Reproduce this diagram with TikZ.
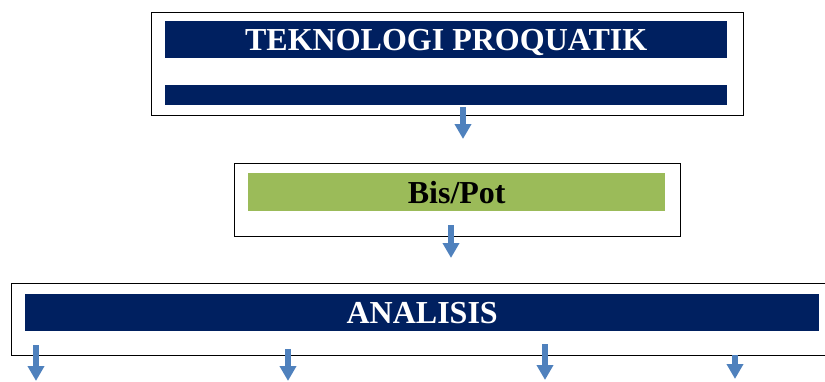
\documentclass[tikz,border=0pt]{standalone}
\usepackage{fontspec}
\setmainfont{Liberation Serif}
\usetikzlibrary{arrows.meta,positioning}
\definecolor{navybar}{HTML}{002060}
\definecolor{greenbar}{HTML}{9BBB59}
\definecolor{arrowblue}{HTML}{4F81BD}
\tikzstyle{frame}=[rectangle,draw=black,line width=1.4pt,fill=white,inner sep=0pt,anchor=north west]
\tikzstyle{bar}=[rectangle,fill=navybar,inner sep=0pt,text depth=0pt,anchor=north west,text=white,font=\fontsize{32}{32}\selectfont\bfseries]
\tikzstyle{gbar}=[bar,fill=greenbar,text=black]
\tikzstyle{blk}=[draw=arrowblue,line width=5.5pt,-{Triangle[width=16pt,length=15pt]}]
\begin{document}
\begin{tikzpicture}[x=1pt,y=-1pt]
\useasboundingbox (0,0) rectangle (825,381);
% top block
\node[frame,minimum width=592pt,minimum height=103pt] (tek) at (151,12) {};
\node[bar,minimum width=562pt,minimum height=37pt] (tekbar) at (165,21) {TEKNOLOGI PROQUATIK};
\node[bar,minimum width=562pt,minimum height=20pt] (tekbar2) at (165,85) {};
% middle block
\node[frame,minimum width=446pt,minimum height=73pt] (bis) at (234,163) {};
\node[gbar,minimum width=417pt,minimum height=38pt] (bisbar) at (248,173) {Bis/Pot};
% bottom block
\node[frame,minimum width=830pt,minimum height=72pt] (ana) at (11,283) {};
\node[bar,minimum width=794pt,minimum height=37pt] (anabar) at (25,294) {ANALISIS};
% arrows
\coordinate (a1s) at (463,107);
\coordinate (a1e) at (463,139);
\coordinate (a2s) at (451,225);
\coordinate (a2e) at (451,258);
\coordinate (b1s) at (36,345);
\coordinate (b1e) at (36,381);
\coordinate (b2s) at (288,349);
\coordinate (b2e) at (288,381);
\coordinate (b3s) at (545,344);
\coordinate (b3e) at (545,380);
\coordinate (b4s) at (735,355);
\coordinate (b4e) at (735,379);
\draw[blk] (a1s) -- (a1e);
\draw[blk] (a2s) -- (a2e);
\draw[blk] (b1s) -- (b1e);
\draw[blk] (b2s) -- (b2e);
\draw[blk] (b3s) -- (b3e);
\draw[blk] (b4s) -- (b4e);
\end{tikzpicture}
\end{document}
